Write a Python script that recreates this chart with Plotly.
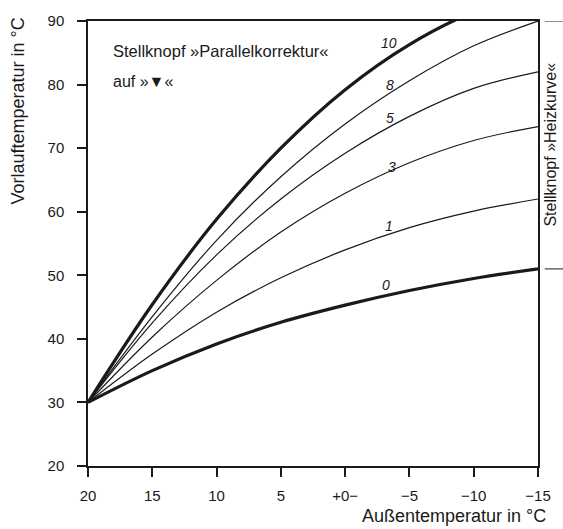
import plotly.graph_objects as go

# Outdoor temperature (x) in °C
outdoor = [20, 15, 10, 5, 0, -5, -10, -15]

# Flow temperature curves per "Heizkurve" setting
curve_0 = [30, 35.0, 39.2, 42.6, 45.3, 47.6, 49.5, 51.0]
curve_1 = [30, 37.6, 44.2, 49.6, 54.0, 57.5, 60.1, 62.0]
curve_3 = [30, 40.3, 49.2, 56.8, 62.9, 67.7, 71.2, 73.4]
curve_5 = [30, 42.5, 53.2, 62.0, 69.2, 75.0, 79.4, 82.0]
curve_8 = [30, 43.5, 55.5, 65.5, 73.8, 80.6, 86.1, 90.0]
curve_10 = [30, 45.4, 58.8, 70.0, 79.2, 86.3, 91.4, 94.3]

curve_names = ["0", "1", "3", "5", "8", "10"]
curve_values = [curve_0, curve_1, curve_3, curve_5, curve_8, curve_10]
curve_thick = [True, False, False, False, False, True]

# label positions (outdoor temp, flow temp)
label_x = [-3.15, -3.38, -3.65, -3.5, -3.5, -3.38]
label_y = [48.5, 57.7, 67.0, 74.7, 80.0, 86.6]

x_ticks = [20, 15, 10, 5, 0, -5, -10, -15]
x_ticktext = ["20", "15", "10", "5", "+0\u2212", "\u22125", "\u221210", "\u221215"]
y_ticks = [20, 30, 40, 50, 60, 70, 80, 90]

FONT = "Liberation Sans, Arial, sans-serif"
INK = "#1a1a1a"

fig = go.Figure()
for name, vals, thick in zip(curve_names, curve_values, curve_thick):
    fig.add_trace(go.Scatter(
        x=outdoor, y=vals, mode="lines", line_shape="spline",
        line=dict(color=INK, width=3.2 if thick else 1.2, smoothing=1),
        name=name, showlegend=False, hoverinfo="skip"))

for name, lx, ly in zip(curve_names, label_x, label_y):
    fig.add_annotation(x=lx, y=ly, text="<i>" + name + "</i>", showarrow=False,
                       xanchor="center", yanchor="middle",
                       font=dict(family=FONT, size=14, color=INK))

fig.add_annotation(xref="paper", yref="y", x=0.052, y=85.3, xanchor="left", yanchor="middle",
                   text="Stellknopf \u00bbParallelkorrektur\u00ab", showarrow=False,
                   font=dict(family=FONT, size=16.5, color=INK))
fig.add_annotation(xref="paper", yref="y", x=0.052, y=80.5, xanchor="left", yanchor="middle",
                   text="auf \u00bb<b>\u25bc</b>\u00ab", showarrow=False,
                   font=dict(family=FONT, size=16, color=INK))

# axis titles
fig.add_annotation(xref="paper", yref="y", x=-0.155, y=75.8, xanchor="center", yanchor="middle",
                   text="Vorlauftemperatur in \u00b0C", textangle=-90, showarrow=False,
                   font=dict(family=FONT, size=18, color=INK))
fig.add_annotation(xref="paper", yref="paper", x=1.022, y=-0.113, xanchor="right", yanchor="middle",
                   text="Au\u00dfentemperatur in \u00b0C", showarrow=False,
                   font=dict(family=FONT, size=18, color=INK))

# right side marker
fig.add_annotation(xref="paper", yref="y", x=1.028, y=70.5, xanchor="center", yanchor="middle",
                   text="Stellknopf \u00bbHeizkurve\u00ab", textangle=-90, showarrow=False,
                   font=dict(family=FONT, size=16, color=INK))
for yv in [curve_8[-1], curve_0[-1]]:
    fig.add_shape(type="line", xref="paper", yref="y", x0=1.015, x1=1.06, y0=yv, y1=yv,
                  line=dict(color=INK, width=1))

fig.update_xaxes(range=[20, -15], tickvals=x_ticks, ticktext=x_ticktext,
                 showline=True, linecolor=INK, linewidth=1.5, mirror=True,
                 ticks="outside", ticklen=9, tickwidth=1.5, tickcolor=INK,
                 showgrid=False, zeroline=False, ticklabelstandoff=6,
                 tickfont=dict(family=FONT, size=15, color=INK))
fig.update_yaxes(range=[20, 90], tickvals=y_ticks,
                 showline=True, linecolor=INK, linewidth=1.5, mirror=True,
                 ticks="outside", ticklen=9, tickwidth=1.5, tickcolor=INK,
                 showgrid=False, zeroline=False, ticklabelstandoff=10,
                 tickfont=dict(family=FONT, size=15, color=INK))

fig.update_layout(width=563, height=529, margin=dict(l=88, r=22, t=13, b=63),
                  paper_bgcolor="white", plot_bgcolor="white")

fig.write_html("out.html", config={"displayModeBar": False},
               post_script="document.body.style.margin='0';document.body.style.padding='0';")
